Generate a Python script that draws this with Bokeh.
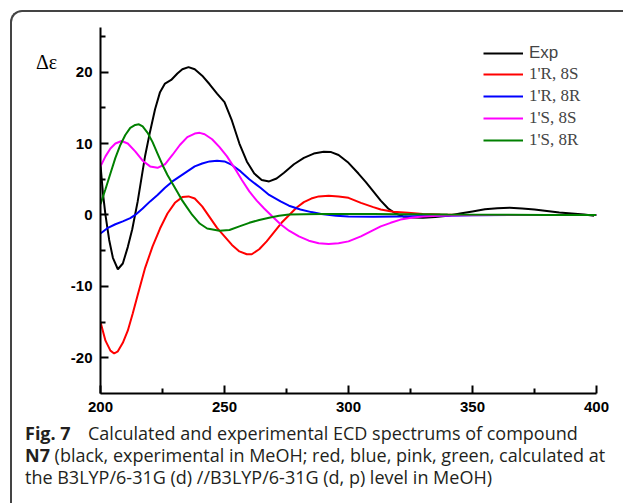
from bokeh.plotting import figure
from bokeh.layouts import column, row
from bokeh.models import Range1d, Legend, LegendItem, FixedTicker, Div
from bokeh.embed import file_html
from bokeh.resources import INLINE

# ---------------- data ----------------
wl_exp = [200, 201, 202, 203.5, 205, 207, 209, 211, 212.8, 215, 218, 220, 222, 224, 226, 228.5,
          231, 233, 235.5, 238, 241, 244, 247, 250, 253, 256, 259, 262, 265, 268, 271, 274, 278,
          282, 286, 290, 293, 296, 300, 304, 307, 310, 313, 316, 319, 322, 326, 330, 335, 340,
          345, 350, 355, 360, 365, 370, 375, 380, 385, 390, 395, 399]
de_exp = [7.0, 3.0, 0.0, -3.5, -6.0, -7.6, -6.8, -4.5, -2.0, 1.9, 8.3, 11.7, 14.8, 17.2, 18.4, 18.9,
          19.8, 20.4, 20.7, 20.4, 19.5, 18.3, 17.0, 15.8, 13.2, 10.0, 7.5, 5.8, 4.9, 4.7, 5.1, 5.9, 7.1,
          8.0, 8.6, 8.85, 8.8, 8.4, 7.3, 5.8, 4.6, 3.3, 2.0, 0.9, 0.2, -0.2, -0.35, -0.4, -0.3, -0.1,
          0.2, 0.5, 0.8, 0.95, 1.0, 0.9, 0.75, 0.55, 0.35, 0.2, 0.05, -0.1]

wl_r8s = [200, 202, 204, 205.5, 207, 209, 211, 213, 215, 218, 221, 224, 227, 230, 233, 235.5, 238,
          241, 244, 247, 250, 253, 256, 259, 261, 264, 267, 270, 273, 276, 279, 282, 285, 288, 292,
          296, 300, 305, 310, 313, 318, 324, 330, 337, 345, 360, 380, 400]
de_r8s = [-15.0, -17.6, -19.0, -19.4, -19.1, -17.9, -16.2, -13.8, -11.2, -7.4, -4.4, -1.9, 0.2, 1.7,
          2.5, 2.6, 2.3, 1.2, -0.3, -1.8, -3.0, -4.2, -5.1, -5.5, -5.5, -4.8, -3.7, -2.4, -1.1, -0.05,
          1.0, 1.8, 2.3, 2.6, 2.7, 2.6, 2.4, 1.7, 1.1, 0.76, 0.45, 0.3, 0.15, 0.05, 0.0, 0.0, 0.0, 0.0]

wl_r8r = [200, 203, 206, 209, 212, 214, 217, 220, 223, 226, 229, 232, 235, 238, 241, 244, 247, 250,
          253, 256.5, 260, 264.5, 268, 272.6, 276, 280.6, 285, 289, 295, 300, 310, 320, 330, 340,
          350, 370, 400]
de_r8r = [-2.6, -1.8, -1.3, -0.9, -0.45, 0.0, 0.9, 1.9, 2.8, 3.8, 4.7, 5.4, 6.1, 6.8, 7.2, 7.5, 7.6,
          7.5, 7.0, 6.1, 5.0, 3.8, 2.8, 1.9, 1.3, 0.76, 0.4, 0.15, -0.1, -0.2, -0.25, -0.2, -0.15,
          -0.1, -0.05, 0.0, 0.0]

wl_s8s = [200, 202, 204, 206, 208.5, 211, 214, 217, 220, 223, 226, 229, 232, 235, 238, 240, 242,
          245, 248, 251, 254, 257, 260, 263, 266, 269, 272.6, 276, 280, 284, 288, 292, 296, 300,
          305, 309, 313, 317, 321, 326, 330, 336, 345, 360, 400]
de_s8s = [6.8, 8.2, 9.3, 10.0, 10.35, 10.0, 8.9, 7.6, 6.8, 6.6, 7.1, 8.4, 9.8, 10.9, 11.4, 11.5,
          11.3, 10.6, 9.5, 8.2, 6.6, 4.9, 3.3, 2.0, 0.9, -0.1, -1.3, -2.2, -3.0, -3.6, -3.95, -4.05,
          -3.95, -3.7, -3.0, -2.3, -1.6, -1.1, -0.65, -0.35, -0.2, -0.1, -0.03, 0.0, 0.0]

wl_s8r = [200, 202, 204, 206, 208, 210, 212, 214, 215.5, 217, 219, 221, 223, 225, 227, 229, 231,
          233, 235, 237, 240, 243, 248, 252, 256, 260, 264, 268, 272, 276, 282, 290, 300, 310, 320,
          330, 340, 360, 380, 400]
de_s8r = [1.5, 3.6, 5.8, 8.0, 9.8, 11.2, 12.2, 12.6, 12.7, 12.4, 11.5, 10.2, 8.6, 7.0, 5.6, 4.4,
          3.2, 2.0, 1.0, 0.0, -1.2, -1.9, -2.2, -2.1, -1.6, -1.1, -0.7, -0.4, -0.1, 0.05, 0.1, 0.15,
          0.15, 0.15, 0.1, 0.1, 0.05, 0.02, 0.0, 0.0]

x_ticks = [200, 250, 300, 350, 400]
x_minor = [225, 275, 325, 375]
y_ticks = [-20, -10, 0, 10, 20]
y_minor = [-15, -5, 5, 15, 25]

series = [
    ("Exp", wl_exp, de_exp, "black"),
    ("1'R, 8S", wl_r8s, de_r8s, "#ff0000"),
    ("1'R, 8R", wl_r8r, de_r8r, "#0000ff"),
    ("1'S, 8S", wl_s8s, de_s8s, "#ff00ff"),
    ("1'S, 8R", wl_s8r, de_s8r, "#008000"),
]

y_label = "Δε"
caption_lines = [
    ("Fig. 7", "Calculated and experimental ECD spectrums of compound"),
    ("N7", "(black, experimental in MeOH; red, blue, pink, green, calculated at"),
    ("", "the B3LYP/6-31G (d) //B3LYP/6-31G (d, p) level in MeOH)"),
]

# ---------------- figure ----------------
p = figure(width=561, height=410, output_backend="svg", toolbar_location=None,
           x_range=Range1d(200, 400), y_range=Range1d(-25, 26.25),
           min_border_left=38, min_border_right=27, min_border_top=15, min_border_bottom=29)
p.grid.visible = False
p.outline_line_color = None
p.background_fill_color = "white"

for ax, tk, mn in ((p.xaxis, x_ticks, x_minor), (p.yaxis, y_ticks, y_minor)):
    ax.ticker = FixedTicker(ticks=tk, minor_ticks=mn)
    ax.major_label_overrides = {t: str(t) for t in tk}
    ax.axis_line_width = 2
    ax.axis_line_color = "black"
    ax.major_tick_line_width = 2
    ax.minor_tick_line_width = 2
    ax.major_tick_in = 8
    ax.major_tick_out = 0
    ax.minor_tick_in = 5
    ax.minor_tick_out = 0
    ax.major_label_text_font = "Liberation Sans"
    ax.major_label_text_font_style = "bold"
    ax.major_label_text_font_size = "15px"
    ax.major_label_text_color = "black"
    ax.major_label_standoff = 8

renderers = {}
for name, xs, ys, col in series:
    renderers[name] = p.line(xs, ys, line_color=col, line_width=2)

leg1 = Legend(items=[LegendItem(label=series[0][0], renderers=[renderers[series[0][0]]])],
              location=(383, 330), label_text_font="Liberation Sans")
leg2 = Legend(items=[LegendItem(label=s[0], renderers=[renderers[s[0]]]) for s in series[1:]],
              location=(383, 243), label_text_font="Liberation Serif")
for lg in (leg1, leg2):
    lg.glyph_width = 40
    lg.glyph_height = 20
    lg.label_height = 20
    lg.spacing = 2
    lg.padding = 0
    lg.margin = 0
    lg.label_standoff = 6
    lg.label_text_font_size = "17px"
    lg.border_line_color = None
    lg.background_fill_alpha = 0
    p.add_layout(lg)

# ---------------- y label (horizontal, near the top of the axis) ----------------
ylab = Div(text=('<div style="font-family:\'Liberation Serif\';font-size:20px;line-height:20px;'
                 'color:black;padding-top:40px;padding-left:24px;white-space:nowrap">'
                 + y_label + '</div>'), width=50, height=410, margin=0)

# ---------------- caption ----------------
rows = []
for bold, rest in caption_lines:
    if bold == "Fig. 7":
        pre = f'<span style="display:inline-block;width:63px;font-weight:bold">{bold}</span>'
    elif bold:
        pre = f'<span style="font-weight:bold">{bold}</span> '
    else:
        pre = ""
    rows.append(f'<div style="white-space:nowrap;height:22px">{pre}{rest}</div>')
cap_html = ('<div style="font-family:\'Open Sans\';font-size:18px;line-height:22px;'
            'color:#231f20;padding-left:13px">' + "".join(rows) + "</div>")
cap = Div(text=cap_html, width=611, height=81, margin=0)

lay = column(row(ylab, p, spacing=0), cap, spacing=0,
             styles={"margin-left": "10px", "margin-top": "10px",
                     "border-left": "2px solid #444444", "border-top": "2px solid #444444",
                     "border-top-left-radius": "12px"})

open("out.html", "w").write(file_html(lay, INLINE))
